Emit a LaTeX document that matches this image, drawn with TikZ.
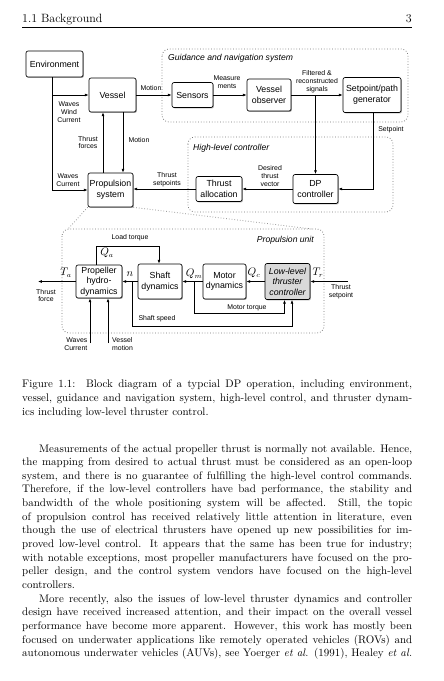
\documentclass[tikz,border=0pt]{standalone}
\usepackage{fontspec}
\newfontfamily\diag{Liberation Sans}
\usetikzlibrary{arrows.meta,shadows}
\tikzset{
  blk/.style={draw, rounded corners=2pt, line width=0.65pt, fill=white, align=center,
    font=\diag\fontsize{8.8}{10.6}\selectfont, inner sep=0.5pt,
    drop shadow={shadow xshift=0.9pt, shadow yshift=-0.9pt, fill=black!45, opacity=0.7}},
  grp/.style={draw=black!55, dotted, line width=0.75pt, rounded corners=7pt},
  zoomln/.style={draw=black!45, dotted, line width=0.75pt},
  arr/.style={-{Latex[length=3.8pt,width=2.8pt]}, line width=0.6pt},
  lbl/.style={font=\diag\fontsize{6.9}{7.8}\selectfont, align=center, inner sep=0pt},
  ttl/.style={font=\diag\itshape\fontsize{8.6}{10}\selectfont, inner sep=0pt},
  var/.style={font=\fontsize{10.5}{11}\selectfont, inner sep=0pt},
  txt/.style={inner sep=0pt, anchor=base west},
}
\begin{document}
\begin{tikzpicture}[x=1pt,y=-1pt]
\useasboundingbox[fill=white] (0,0) rectangle (444,681);

% header
\node[txt, font=\fontsize{12}{13}\selectfont] (hd) at (22,22) {1.1 Background};
\node[inner sep=0pt, anchor=base east, font=\fontsize{12}{13}\selectfont] (pg) at (412,22) {3};
\draw[line width=1.2pt] (22,27.5) -- (412,27.5);

% group boxes
\draw[grp] (162,49) rectangle (408,122);
\draw[grp] (188,137) rectangle (393,212);
\draw[grp] (62,229) rectangle (324,333);
\node[ttl, anchor=base west] (tg) at (168,60) {Guidance and navigation system};
\node[ttl, anchor=base west] (th) at (193,150) {High-level controller};
\node[ttl, anchor=base east] (tp) at (314,242) {Propulsion unit};

% blocks
\node[blk, minimum width=57, minimum height=26] (env) at (54.5,64) {Environment};
\node[blk, minimum width=47, minimum height=34] (vessel) at (112.5,95) {Vessel};
\node[blk, minimum width=41, minimum height=25] (sensors) at (192.5,95) {Sensors};
\node[blk, minimum width=44, minimum height=32] (obs) at (269,95) {Vessel\\observer};
\node[blk, minimum width=58, minimum height=35] (gen) at (372,95) {Setpoint/path\\generator};
\node[blk, minimum width=46, minimum height=25] (talloc) at (219,189) {Thrust\\allocation};
\node[blk, minimum width=45, minimum height=29] (dp) at (315.5,189) {DP\\controller};
\node[blk, minimum width=45, minimum height=34] (prop) at (110.5,190) {Propulsion\\system};

\node[blk, minimum width=46, minimum height=33] (ph) at (99,281.5) {Propeller\\hydro-\\dynamics};
\node[blk, minimum width=44, minimum height=35] (shaft) at (160,281.5) {Shaft\\dynamics};
\node[blk, minimum width=43, minimum height=35] (motor) at (224.5,281.5) {Motor\\dynamics};
\node[blk, minimum width=45, minimum height=36, fill=black!15, font=\diag\itshape\fontsize{8.8}{10.6}\selectfont] (llc) at (287.5,281.5) {Low-level\\thruster\\controller};

% zoom lines
\draw[zoomln] (prop.south west) -- (68,229);
\draw[zoomln] (prop.south east) -- (312,229);

% upper connectors
\draw[arr] ([xshift=-2.5pt]env.south) |- (vessel.west);
\draw[arr] ([xshift=-2.5pt]env.south) |- (prop.west);
\node[lbl] (l1) at (69,112) {Waves\\Wind\\Current};
\node[lbl] (l2) at (68,180) {Waves\\Current};

\draw[arr] (vessel.east) -- (sensors.west);
\node[lbl] (l3) at (151,88) {Motion};
\draw[arr] (sensors.east) -- (obs.west);
\node[lbl] (l4) at (227,82.5) {Measure\\ments};
\draw[arr] (obs.east) -- (gen.west);
\node[lbl] (l5) at (317,81.5) {Filtered \&\\reconstructed\\signals};
\coordinate (br) at (obs.east -| dp.north);
\draw[arr] (br) -- (dp.north);
\draw[arr] ([xshift=1pt]gen.south) |- (dp.east);
\node[lbl] (l6) at (391,130) {Setpoint};
\draw[arr] (dp.west) -- (talloc.west -| talloc.east);
\node[lbl] (l7) at (270,176) {Desired\\thrust\\vector};
\draw[arr] (talloc.west) -- (talloc.west -| prop.east);
\node[lbl] (l8) at (167,180) {Thrust\\setpoints};

\draw[arr] ([xshift=-7.5pt]prop.north) -- ([xshift=-7.5pt]prop.north |- vessel.south);
\node[lbl] (l9) at (88,142.5) {Thrust\\forces};
\draw[arr] ([xshift=10.5pt]vessel.south) -- ([xshift=10.5pt]vessel.south |- prop.north);
\node[lbl] (l10) at (139,140) {Motion};

% propulsion unit connectors
\draw[arr] (llc.west) -- (motor.east);
\draw[arr] (motor.west) -- (shaft.east);
\draw[arr] (shaft.west) -- (ph.west -| ph.east);
\coordinate (tf) at (38,281.5);
\draw[arr] (ph.west) -- (tf);
\coordinate (ts) at (348,281.5);
\draw[arr] (ts) -- (llc.east);

\node[var] (vqc) at (254,273) {$Q_c$};
\node[var] (vqm) at (194,274) {$Q_m$};
\node[var] (vn) at (130,274) {$n$};
\node[var] (vta) at (66,273) {$T_a$};
\node[var] (vtr) at (318,273) {$T_r$};
\node[var] (vqa) at (107,253) {$Q_a$};

\node[lbl] (l11) at (46,295.5) {Thrust\\force};
\node[lbl] (l12) at (341,291.5) {Thrust\\setpoint};

\coordinate (lt1) at (96,246);
\draw[arr] (lt1 |- ph.north) -- (lt1) -| ([xshift=-1pt]shaft.north);
\node[lbl] (l13) at (130,238) {Load torque};

\coordinate (wc) at (90,343);
\draw[arr] (wc) -- (wc |- ph.south);
\coordinate (vm) at (108,343);
\draw[arr] (vm) -- (vm |- ph.south);
\node[lbl, align=right, anchor=east] (l14) at (87.5,344) {Waves\\Current};
\node[lbl, align=left, anchor=west] (l15) at (112,344) {Vessel\\motion};

\coordinate (ss1) at (132,281.5);
\coordinate (ss2) at (132,326);
\coordinate (ss3) at (292,326);
\draw[arr] (ss1) -- (ss2) -- (ss3) -- (ss3 |- llc.south);
\node[lbl] (l16) at (157,319) {Shaft speed};
\coordinate (mt1) at (194,281.5);
\coordinate (mt2) at (194,313);
\coordinate (mt3) at (284.5,313);
\draw[arr] (mt1) -- (mt2) -- (mt3) -- (mt3 |- llc.south);
\node[lbl] (l17) at (247,308) {Motor torque};

% caption
\node[txt] (cap) at (22,387) {\parbox[t]{390pt}{\fontsize{10.95}{14}\selectfont\parindent=0pt
\makebox[390pt][s]{Figure 1.1:\ \ Block diagram of a typcial DP operation, including environment,}\\
\makebox[390pt][s]{vessel, guidance and navigation system, high-level control, and thruster dynam-}\\
ics including low-level thruster control.}};

% body text
\node[txt] (body) at (22,452) {\parbox[t]{390pt}{\fontsize{10.95}{13.65}\selectfont\parindent=0pt
\makebox[390pt][s]{\hspace*{17pt}Measurements of the actual propeller thrust is normally not available. Hence,}\\
\makebox[390pt][s]{the mapping from desired to actual thrust must be considered as an open-loop}\\
\makebox[390pt][s]{system, and there is no guarantee of fulfilling the high-level control commands.}\\
\makebox[390pt][s]{Therefore, if the low-level controllers have bad performance, the stability and}\\
\makebox[390pt][s]{bandwidth of the whole positioning system will be affected.\ \ Still, the topic}\\
\makebox[390pt][s]{of propulsion control has received relatively little attention in literature, even}\\
\makebox[390pt][s]{though the use of electrical thrusters have opened up new possibilities for im-}\\
\makebox[390pt][s]{proved low-level control. It appears that the same has been true for industry;}\\
\makebox[390pt][s]{with notable exceptions, most propeller manufacturers have focused on the pro-}\\
\makebox[390pt][s]{peller design, and the control system vendors have focused on the high-level}\\
controllers.\\
\makebox[390pt][s]{\hspace*{17pt}More recently, also the issues of low-level thruster dynamics and controller}\\
\makebox[390pt][s]{design have received increased attention, and their impact on the overall vessel}\\
\makebox[390pt][s]{performance have become more apparent. However, this work has mostly been}\\
\makebox[390pt][s]{focused on underwater applications like remotely operated vehicles (ROVs) and}\\
\makebox[390pt][s]{autonomous underwater vehicles (AUVs), see Yoerger \emph{et al.} (1991), Healey \emph{et al.}}}};
\end{tikzpicture}
\end{document}
